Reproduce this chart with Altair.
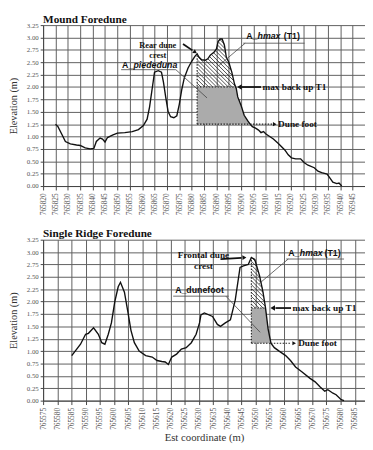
import altair as alt
import numpy as np
import pandas as pd

# ---------------- data ----------------
top_x = [765825, 765826, 765827.5, 765829, 765831, 765833.5, 765835, 765837, 765839, 765840.5,
         765841.5, 765843, 765844, 765845, 765846, 765848, 765850, 765853, 765856, 765858.5,
         765860.5, 765862, 765863, 765864, 765865, 765866.5, 765867.8, 765868.6, 765869.5, 765870.5,
         765871.5, 765872.8, 765874, 765875, 765876, 765877, 765878.5, 765880, 765881.3, 765882.2,
         765883, 765884, 765885.5, 765886.5, 765887.5, 765889, 765890, 765890.7, 765891.5, 765892.3,
         765893.2, 765894, 765895, 765896.2, 765897.3, 765898, 765898.6, 765900, 765901.2, 765902.6,
         765903.6, 765904.5, 765905.8, 765907, 765908, 765909, 765910, 765911.5, 765913, 765915,
         765917.6, 765919, 765920.3, 765922, 765924, 765925.5, 765927, 765929.5, 765931, 765932.5,
         765934.7, 765936, 765937, 765938.6, 765939.5, 765940.6]
top_e = [1.25, 1.2, 1.05, 0.9, 0.85, 0.83, 0.82, 0.77, 0.75, 0.76,
         0.9, 0.97, 0.95, 0.89, 0.98, 1.03, 1.07, 1.08, 1.1, 1.14,
         1.22, 1.35, 1.6, 1.95, 2.3, 2.33, 2.3, 2.1, 1.8, 1.5,
         1.4, 1.38, 1.42, 1.65, 1.95, 2.18, 2.38, 2.52, 2.62, 2.67,
         2.6, 2.55, 2.54, 2.57, 2.64, 2.7, 2.77, 2.92, 2.97, 2.97,
         2.85, 2.6, 2.5, 2.3, 2.06, 1.97, 1.8, 1.62, 1.43, 1.32,
         1.25, 1.2, 1.17, 1.13, 1.08, 1.1, 1.05, 1.0, 0.95, 0.86,
         0.73, 0.63, 0.57, 0.55, 0.55, 0.47, 0.42, 0.37, 0.3, 0.27,
         0.24, 0.15, 0.08, 0.05, 0.06, 0.0]

bot_x = [765585.1, 765588.2, 765590, 765591, 765592.8, 765594.5, 765595.7, 765596.8, 765598, 765599.1,
         765600.3, 765601.5, 765602.3, 765603.7, 765604.9, 765606, 765607.2, 765608.9, 765611.2, 765613.5,
         765615.2, 765616.9, 765618.1, 765619.2, 765620.4, 765622.1, 765623.8, 765625.5, 765627.3, 765629,
         765630.2, 765630.7, 765631.9, 765634.8, 765636.5, 765637.6, 765639.3, 765641.1, 765642.8, 765644.5,
         765645.7, 765647.4, 765648.5, 765649.7, 765651.4, 765652.6, 765653.5, 765654.4, 765655.4, 765656.6,
         765658.3, 765660.6, 765662.3, 765664.1, 765666.4, 765669.2, 765671, 765672.7, 765674.4, 765675.5,
         765677.3, 765678.4, 765680.2, 765681.2]
bot_e = [0.91, 1.14, 1.34, 1.36, 1.47, 1.34, 1.17, 1.14, 1.34, 1.57,
         2.0, 2.3, 2.39, 2.19, 1.8, 1.42, 1.17, 1.0, 0.91, 0.88,
         0.81, 0.79, 0.78, 0.73, 0.88, 0.94, 1.04, 1.07, 1.17, 1.34,
         1.57, 1.73, 1.77, 1.70, 1.54, 1.50, 1.57, 1.63, 2.03, 2.69,
         2.72, 2.75, 2.89, 2.85, 2.52, 2.19, 1.87, 1.45, 1.16, 1.07,
         1.0, 0.91, 0.81, 0.68, 0.58, 0.45, 0.38, 0.28, 0.19, 0.22,
         0.15, 0.12, 0.02, 0.0]

top_ticks = list(range(765820, 765950, 5))
bot_ticks = list(range(765575, 765690, 5))
y_ticks = [0, 0.25, 0.5, 0.75, 1.0, 1.25, 1.5, 1.75, 2.0, 2.25, 2.5, 2.75, 3.0, 3.25]

top_levels = {"crest": 765882.2, "backup": 2.0, "foot": 1.25}
bot_levels = {"crest": 765648.5, "backup": 1.87, "foot": 1.16}

SERIF = "Liberation Serif"
SANS = "Liberation Sans"
H = 165
GRID = "#5e5e5e"


def panel(px, pe, ticks, domain, width, lv, title, ann, xtitle):
    kx = width / (domain[1] - domain[0])
    ky = H / 3.25
    xaxis = alt.Axis(values=ticks, format="d", labelAngle=270, labelFontSize=7.5, labelFont=SERIF,
                     labelColor="#555", grid=True, gridColor=GRID, gridWidth=1, tickColor="#444",
                     tickSize=4, domainColor="#444", labelPadding=3,
                     title=xtitle if xtitle else None, titleFont=SERIF, titleFontSize=11,
                     titleFontWeight="normal", titleColor="#333", titlePadding=2)
    yaxis = alt.Axis(values=y_ticks, format=".2f", labelFontSize=7, labelFont=SERIF, labelColor="#555",
                     grid=True, gridColor=GRID, gridWidth=1, tickColor="#444", tickSize=3,
                     domainColor="#444", labelPadding=2, title="Elevation (m)", titleFont=SERIF,
                     titleFontSize=10.5, titleFontWeight="normal", titleColor="#333", titlePadding=8)
    xs_ = alt.Scale(domain=domain, nice=False, zero=False)
    ys_ = alt.Scale(domain=[0, 3.25], nice=False)

    def X(f="x"):
        return alt.X(f"{f}:Q", scale=xs_, axis=xaxis, title=xtitle if xtitle else None)

    def Y(f="y"):
        return alt.Y(f"{f}:Q", scale=ys_, axis=yaxis, title="Elevation (m)")

    prof = pd.DataFrame({"x": px, "y": pe})
    xs = np.arange(lv["crest"], max(px), 0.02)
    es = np.interp(xs, px, pe)
    foot_x = xs[np.argmax(es <= lv["foot"])]
    back_x = xs[np.argmax(es <= lv["backup"])]
    crest_e = float(np.interp(lv["crest"], px, pe))

    g = xs <= foot_x
    grey = pd.DataFrame({"x": xs[g], "y": np.minimum(es[g], lv["backup"]), "y2": lv["foot"]})

    # hatch segments (45 degrees in screen space)
    s = kx / ky
    hm = xs <= back_x
    hx, he = xs[hm], es[hm]
    segs = []
    step = 4.0 / ky
    c = lv["backup"]
    cmax = he.max() + s * (back_x - lv["crest"]) + step
    while c <= cmax:
        el = c - s * (hx - lv["crest"])
        idx = np.flatnonzero((el >= lv["backup"]) & (el <= he))
        if idx.size > 1:
            br = np.flatnonzero(np.diff(idx) > 1)
            st = np.r_[idx[0], idx[br + 1]]
            en = np.r_[idx[br], idx[-1]]
            for a, b in zip(st, en):
                if b > a:
                    segs.append({"x": hx[a], "y": el[a], "x2": hx[b], "y2": el[b]})
        c += step
    hatch = pd.DataFrame(segs)

    dotted = pd.DataFrame([
        {"x": lv["crest"], "y": lv["foot"], "x2": lv["crest"], "y2": crest_e},
        {"x": lv["crest"], "y": lv["foot"], "x2": foot_x, "y2": lv["foot"]},
        {"x": lv["crest"], "y": lv["backup"], "x2": back_x, "y2": lv["backup"]},
        {"x": foot_x, "y": lv["foot"], "x2": ann["foot_arrow_x"], "y2": lv["foot"]},
    ])

    layers = []
    layers.append(alt.Chart(grey).mark_area(color="#ababab", interpolate="linear").encode(
        x=X(), y=Y(), y2="y2:Q"))
    layers.append(alt.Chart(hatch).mark_rule(color="#222", strokeWidth=0.8).encode(
        x=X(), y=Y(), x2="x2:Q", y2="y2:Q"))
    layers.append(alt.Chart(dotted).mark_rule(color="#222", strokeWidth=1.1, strokeDash=[1.5, 1.5]).encode(
        x=X(), y=Y(), x2="x2:Q", y2="y2:Q"))
    layers.append(alt.Chart(prof).mark_line(color="#111", strokeWidth=1.4, interpolate="linear").encode(
        x=X(), y=Y()))

    lead = pd.DataFrame(ann["leaders"], columns=["x", "y", "x2", "y2"])
    layers.append(alt.Chart(lead).mark_rule(color="#444", strokeWidth=0.8).encode(
        x=X(), y=Y(), x2="x2:Q", y2="y2:Q"))
    thick = pd.DataFrame(ann["thick"], columns=["x", "y", "x2", "y2"])
    layers.append(alt.Chart(thick).mark_rule(color="#111", strokeWidth=1.8).encode(
        x=X(), y=Y(), x2="x2:Q", y2="y2:Q"))
    for (hxp, hyp, ang, size) in ann["heads"]:
        layers.append(alt.Chart(pd.DataFrame({"x": [hxp], "y": [hyp]})).mark_point(
            shape="triangle", filled=True, color="#111", size=size, angle=ang, opacity=1).encode(
            x=X(), y=Y()))
    for t in ann["texts"]:
        txt, tx, ty, font, size, weight, style, align = t
        layers.append(alt.Chart(pd.DataFrame({"x": [tx], "y": [ty]})).mark_text(
            text=txt, font=font, fontSize=size, fontWeight=weight, fontStyle=style, align=align,
            baseline="middle", color="#111", lineHeight=ann.get("lh", 9)).encode(x=X(), y=Y()))

    return alt.layer(*layers).properties(
        width=width, height=H,
        title=alt.TitleParams(title, anchor="start", frame="group", font=SERIF, fontSize=11.5,
                              fontWeight="bold", color="#111", offset=-4))


top_ann = {
    "foot_arrow_x": 765912.5,
    "lh": 10,
    "leaders": [
        (765851.5, 2.35, 765873.6, 2.35), (765873.6, 2.35, 765886.2, 1.78),
        (765900.8, 2.885, 765925.6, 2.885), (765901.6, 2.885, 765890.9, 2.43),
    ],
    "thick": [(765876.5, 2.87, 765880.3, 2.74), (765908.0, 2.0, 765900.0, 2.0)],
    "heads": [(765899.6, 2.0, 270, 30), (765913.3, 1.25, 90, 18), (765881.2, 2.71, 125, 22)],
    "texts": [
        (["Rear dune", "crest"], 765866.3, 2.85, SERIF, 8.5, "bold", "normal", "center"),
        ("A_", 765851.9, 2.45, SANS, 9, "bold", "normal", "left"),
        ("piededuna", 765856.5, 2.45, SANS, 9, "bold", "italic", "left"),
        ("A_", 765902.0, 3.02, SANS, 9, "bold", "normal", "left"),
        ("hmax", 765906.6, 3.02, SANS, 9, "bold", "italic", "left"),
        ("(T1)", 765917.2, 3.02, SANS, 9, "bold", "normal", "left"),
        ("max back up  T1", 765908.6, 2.0, SERIF, 9.5, "bold", "normal", "left"),
        ("Dune foot", 765914.9, 1.25, SERIF, 9.5, "bold", "normal", "left"),
    ],
}

bot_ann = {
    "foot_arrow_x": 765662.6,
    "lh": 11,
    "leaders": [
        (765660.8, 2.86, 765681.2, 2.86), (765661.5, 2.86, 765651.2, 2.36),
        (765620.9, 2.11, 765640.5, 2.11), (765639.5, 2.11, 765651.6, 1.38),
    ],
    "thick": [(765637.6, 2.86, 765645.0, 2.885), (765662.5, 1.87, 765657.0, 1.87)],
    "heads": [(765656.3, 1.87, 270, 30), (765663.4, 1.16, 90, 18), (765645.8, 2.89, 87, 22)],
    "texts": [
        (["Frontal dune", "crest"], 765631.6, 2.93, SERIF, 9.5, "bold", "normal", "center"),
        ("A_", 765661.5, 2.98, SANS, 9, "bold", "normal", "left"),
        ("hmax", 765665.6, 2.98, SANS, 9, "bold", "italic", "left"),
        ("(T1)", 765674.3, 2.98, SANS, 9, "bold", "normal", "left"),
        ("A_dunefoot", 765621.6, 2.23, SANS, 9, "bold", "normal", "left"),
        ("max back up  T1", 765663.0, 1.87, SERIF, 9.5, "bold", "normal", "left"),
        ("Dune foot", 765665.0, 1.16, SERIF, 9.5, "bold", "normal", "left"),
    ],
}

top = panel(top_x, top_e, top_ticks, [765820, 765950], 330, top_levels, "Mound Foredune", top_ann, None)
bot = panel(bot_x, bot_e, bot_ticks, [765575, 765688.6], 330, bot_levels, "Single Ridge Foredune",
            bot_ann, "Est coordinate (m)")

chart = alt.vconcat(top, bot, spacing=13).properties(
    padding={"left": 0, "top": 0, "right": 0, "bottom": 0},
    background="white",
).configure_view(strokeWidth=0)

chart.save("out.html", embed_options={"renderer": "svg", "actions": False})
